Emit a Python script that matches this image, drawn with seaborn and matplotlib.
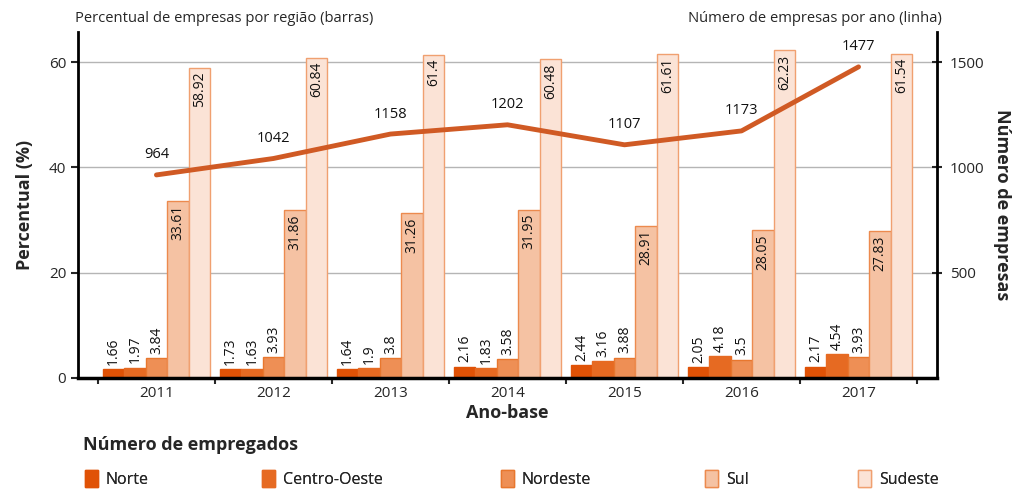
import matplotlib
matplotlib.use("Agg")
import matplotlib.pyplot as plt
import seaborn as sns
import pandas as pd
from matplotlib.patches import Patch

anos = ["2011", "2012", "2013", "2014", "2015", "2016", "2017"]
regioes = ["Norte", "Centro-Oeste", "Nordeste", "Sul", "Sudeste"]
norte = [1.66, 1.73, 1.64, 2.16, 2.44, 2.05, 2.17]
centro_oeste = [1.97, 1.63, 1.9, 1.83, 3.16, 4.18, 4.54]
nordeste = [3.84, 3.93, 3.8, 3.58, 3.88, 3.5, 3.93]
sul = [33.61, 31.86, 31.26, 31.95, 28.91, 28.05, 27.83]
sudeste = [58.92, 60.84, 61.4, 60.48, 61.61, 62.23, 61.54]
empresas = [964, 1042, 1158, 1202, 1107, 1173, 1477]

cores = ["#E05206", "#E66A22", "#EE8F55", "#F5C2A3", "#FBE3D6"]
bordas = ["#E05206", "#E66A22", "#E8772E", "#EC8A4E", "#F0A070"]
cor_linha = "#D05A24"

sns.set_style("white")
plt.rcParams["font.family"] = ["Open Sans", "DejaVu Sans"]

series = [norte, centro_oeste, nordeste, sul, sudeste]
df = pd.DataFrame({
    "ano": [a for s in series for a in anos],
    "regiao": [r for r, s in zip(regioes, series) for _ in s],
    "valor": [v for s in series for v in s],
})

fig = plt.figure(figsize=(10.16, 4.9), dpi=100)
ax = fig.add_axes([0.0768, 0.2286, 0.9222 - 0.0768, 0.9347 - 0.2286])

sns.barplot(data=df, x="ano", y="valor", hue="regiao", hue_order=regioes,
            palette=cores, saturation=1, width=0.92, ax=ax, legend=False, zorder=2)

for cont, borda, s in zip(ax.containers, bordas, series):
    for p, v in zip(cont.patches, s):
        p.set_edgecolor(borda)
        p.set_linewidth(1.0)
        txt = f"{v:g}"
        x = p.get_x() + p.get_width() / 2
        if v > 20:
            ax.text(x, v - 0.8, txt, rotation=90, ha="center", va="top", fontsize=10, color="#111111")
        else:
            ax.text(x, v + 0.8, txt, rotation=90, ha="center", va="bottom", fontsize=10, color="#111111")

ax.set_xlim(-0.67, 6.67)
ax.set_ylim(0, 65.7)
ax.set_yticks([0, 20, 40, 60])
ax.yaxis.grid(True, color="#b5b5b5", linewidth=1, zorder=0)
ax.set_axisbelow(True)

ax.set_xticks([i - 0.5 for i in range(8)])
ax.set_xticklabels([])
ax.set_xticks(range(7), minor=True)
ax.set_xticklabels(anos, minor=True, fontsize=11)
ax.tick_params(axis="x", which="major", length=4, width=1.5, direction="out", bottom=True)
ax.tick_params(axis="x", which="minor", length=0, pad=6)
ax.tick_params(axis="y", length=5, width=1.5, direction="out", left=True, labelsize=11)

for side in ["top", "right"]:
    ax.spines[side].set_visible(False)
ax.spines["left"].set_linewidth(2)
ax.spines["bottom"].set_linewidth(2.5)
ax.spines["left"].set_color("black")
ax.spines["bottom"].set_color("black")

ax.set_xlabel("Ano-base", fontsize=13, fontweight="bold", labelpad=2)
ax.set_ylabel("Percentual (%)", fontsize=13, fontweight="bold", labelpad=11)

ax2 = ax.twinx()
sns.lineplot(x=list(range(7)), y=empresas, ax=ax2, color=cor_linha, linewidth=3.5,
             solid_capstyle="round")
ax2.set_ylim(0, 65.7 * 25)
ax2.set_yticks([500, 1000, 1500])
ax2.tick_params(axis="y", length=7, width=1.5, direction="inout", right=True, labelsize=11, pad=6)
for side in ["top", "left", "bottom"]:
    ax2.spines[side].set_visible(False)
ax2.spines["right"].set_linewidth(2)
ax2.spines["right"].set_color("black")
ax2.set_ylabel("Número de empresas", fontsize=13, fontweight="bold", rotation=270, labelpad=19)

for i, v in enumerate(empresas):
    ax2.annotate(str(v), (i, v), xytext=(0, 9), textcoords="offset points",
                 ha="center", va="bottom", fontsize=10.5, color="#111111")

fig.text(0.074, 0.963, "Percentual de empresas por região (barras)", fontsize=10.6, ha="left", va="center")
fig.text(0.927, 0.963, "Número de empresas por ano (linha)", fontsize=10.6, ha="right", va="center")

fig.text(0.082, 0.092, "Número de empregados", fontsize=13, fontweight="bold", ha="left", va="center")
leg_x = [0.076, 0.250, 0.485, 0.686, 0.837]
for r, c, b, lx in zip(regioes, cores, bordas, leg_x):
    h = Patch(facecolor=c, edgecolor=b, linewidth=1)
    lg = fig.legend(handles=[h], labels=[r], loc="center left", bbox_to_anchor=(lx, 0.022),
                    frameon=False, fontsize=11.5, handlelength=0.8, handleheight=1.2,
                    handletextpad=0.5, borderpad=0)
    fig.add_artist(lg)

fig.savefig("out.png", dpi=100)
